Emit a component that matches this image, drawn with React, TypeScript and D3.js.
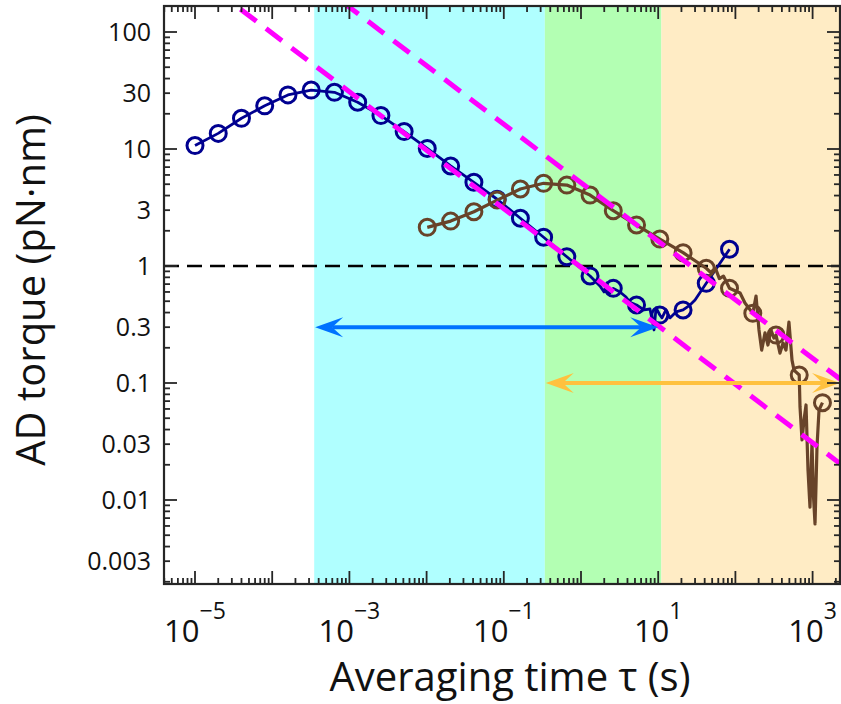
import React from 'react'
import * as d3 from 'd3'

const W = 841
const H = 704
const L = 164, R = 840, T = 6, B = 584

// averaging times at octave spacing (s)
const tauOct = [1e-5, 2e-5, 4e-5, 8e-5, 1.6e-4, 3.2e-4, 6.4e-4, 1.28e-3, 2.56e-3, 5.12e-3, 0.0102, 0.0205, 0.041, 0.082, 0.164, 0.328, 0.655, 1.31, 2.62, 5.24, 10.5, 21, 41.9, 83.9, 168, 336, 671, 1342]

// blue trace (marker values) + jitter read between markers
const blueVal = [10.7, 13.6, 18.3, 23.4, 29.0, 31.9, 30.5, 25.1, 19.3, 14.1, 10.1, 7.16, 5.19, 3.72, 2.56, 1.76, 1.2, 0.822, 0.644, 0.464, 0.381, 0.421, 0.711, 1.39]
const blueExtraTau = [1.76, 1.99, 2.17, 2.31, 3.2, 3.83, 4.31, 6.55, 7.83, 8.83, 9.38, 11.2, 12.6, 14.2, 17.0, 25.8, 30.0]
const blueExtraVal = [0.675, 0.6, 0.716, 0.576, 0.6, 0.543, 0.49, 0.421, 0.429, 0.284, 0.438, 0.36, 0.421, 0.36, 0.405, 0.464, 0.512]

// brown trace starts at the 11th octave point
const brownVal = [2.14, 2.42, 2.91, 3.66, 4.55, 5.09, 4.92, 4.04, 2.97, 2.24, 1.7, 1.3, 0.956, 0.645, 0.394, 0.257, 0.117, 0.0679]
const brownExtraTau = [48, 55, 62, 70, 115, 133, 185, 202, 219, 242, 264, 289, 316, 378, 414, 452, 494, 541, 574, 687, 729, 774, 822, 872, 925, 982, 1028, 1075, 1140, 1211]
const brownExtraVal = [0.88, 0.96, 0.78, 0.82, 0.588, 0.483, 0.554, 0.284, 0.191, 0.268, 0.211, 0.284, 0.242, 0.18, 0.22, 0.191, 0.332, 0.157, 0.129, 0.0624, 0.0326, 0.0483, 0.0649, 0.018, 0.0087, 0.0307, 0.0106, 0.00624, 0.0284, 0.0588]

// tau^-1/2 guide lines (coefficients)
const guideCoef = [0.975, 5.15]

// shaded regimes
const bandEdges = [3.5e-4, 0.34, 11]
const bandColors = ['#b0ffff', '#b3ffb3', '#ffecc5']

const yTickLabels = ['100', '30', '10', '3', '1', '0.3', '0.1', '0.03', '0.01', '0.003']
const xLabelExps = [-5, -3, -1, 1, 3]

const xDom: [number, number] = [10 ** (-5 - 31 / 77.2), 10 ** (-5 + 645 / 77.2)]
const yDom: [number, number] = [10 ** (-2 - 84 / 117), 10 ** (2 + 26 / 117)]

const x = d3.scaleLog().domain(xDom).range([L, R])
const y = d3.scaleLog().domain(yDom).range([B, T])

const merge = (ta: number[], va: number[], tb: number[], vb: number[]) =>
  ta.map((t, i) => [t, va[i]]).concat(tb.map((t, i) => [t, vb[i]])).sort((a, b) => a[0] - b[0])

const minorTicks = (dom: [number, number]) => {
  const out: number[] = []
  for (let e = -7; e <= 4; e++) for (let m = 2; m <= 9; m++) {
    const v = m * 10 ** e
    if (v > dom[0] && v < dom[1]) out.push(v)
  }
  return out
}
const majorTicks = (dom: [number, number]) => {
  const out: number[] = []
  for (let e = -7; e <= 4; e++) { const v = 10 ** e; if (v >= dom[0] && v <= dom[1]) out.push(v) }
  return out
}

const FONT = '"Open Sans", sans-serif'

function Arrow({ x1, x2, yv, color }: { x1: number, x2: number, yv: number, color: string }) {
  const px1 = x(x1), px2 = Math.min(x(x2), R), py = y(yv)
  const Lh = 28, hw = 10, N = 17
  const head = (tx: number, d: number) =>
    `M${tx},${py}L${tx - d * Lh},${py - hw}L${tx - d * N},${py}L${tx - d * Lh},${py + hw}Z`
  return (
    <g>
      <line x1={px1 + N} x2={px2 - N} y1={py} y2={py} stroke={color} strokeWidth={4} />
      <path d={head(px1, -1)} fill={color} />
      <path d={head(px2, 1)} fill={color} />
    </g>
  )
}

export default function App() {
  const line = d3.line<number[]>().x(d => x(d[0])).y(d => y(d[1]))
  const blueMarks = blueVal.map((v, i) => [tauOct[i], v])
  const brownMarks = brownVal.map((v, i) => [tauOct[i + 10], v])
  const blueLine = merge(tauOct.slice(0, blueVal.length), blueVal, blueExtraTau, blueExtraVal)
  const brownLine = merge(tauOct.slice(10, 10 + brownVal.length), brownVal, brownExtraTau, brownExtraVal)

  const xMaj = majorTicks(xDom), xMin = minorTicks(xDom)
  const yMaj = majorTicks(yDom), yMin = minorTicks(yDom)
  const edges = [...bandEdges, xDom[1]]
  const ink = '#262626'

  return (
    <svg width={W} height={H} style={{ display: 'block', background: '#fff' }}>
      <style>{'body{margin:0}'}</style>
      <defs>
        <clipPath id="plot"><rect x={L} y={T} width={R - L} height={B - T} /></clipPath>
      </defs>

      {bandColors.map((c, i) => (
        <rect key={i} x={x(edges[i])} y={T} width={x(edges[i + 1]) - x(edges[i])} height={B - T} fill={c} />
      ))}

      <g clipPath="url(#plot)">
        <line x1={L} x2={R} y1={y(1)} y2={y(1)} stroke="#000" strokeWidth={2.5} strokeDasharray="15 8" />

        <path d={line(blueLine) || ''} fill="none" stroke="#000090" strokeWidth={2.8} strokeLinejoin="round" />
        {blueMarks.map((d, i) => (
          <circle key={i} cx={x(d[0])} cy={y(d[1])} r={8} fill="none" stroke="#000090" strokeWidth={3} />
        ))}

        <path d={line(brownLine) || ''} fill="none" stroke="#684329" strokeWidth={3.2} strokeLinejoin="round" />
        {brownMarks.map((d, i) => (
          <circle key={i} cx={x(d[0])} cy={y(d[1])} r={8} fill="none" stroke="#684329" strokeWidth={3} />
        ))}

        {guideCoef.map((c, i) => (
          <path key={i}
            d={line(xDom.map(t => [t, c * t ** -0.5])) || ''}
            fill="none" stroke="#ff00ff" strokeWidth={5} strokeDasharray="20 12" />
        ))}

        <Arrow x1={3.6e-4} x2={10} yv={0.3} color="#0072ff" />
        <Arrow x1={0.35} x2={xDom[1]} yv={0.1} color="#ffc13e" />
      </g>

      {/* frame and ticks */}
      <g stroke={ink} strokeWidth={1.8}>
        {xMaj.map(v => (
          <g key={'xM' + v}>
            <line x1={x(v)} x2={x(v)} y1={B} y2={B - 13} />
            <line x1={x(v)} x2={x(v)} y1={T} y2={T + 13} />
          </g>
        ))}
        {xMin.map(v => (
          <g key={'xm' + v}>
            <line x1={x(v)} x2={x(v)} y1={B} y2={B - 6} />
            <line x1={x(v)} x2={x(v)} y1={T} y2={T + 6} />
          </g>
        ))}
        {yMaj.map(v => (
          <g key={'yM' + v}>
            <line x1={L} x2={L + 13} y1={y(v)} y2={y(v)} />
            <line x1={R} x2={R - 13} y1={y(v)} y2={y(v)} />
          </g>
        ))}
        {yMin.map(v => (
          <g key={'ym' + v}>
            <line x1={L} x2={L + 6} y1={y(v)} y2={y(v)} />
            <line x1={R} x2={R - 6} y1={y(v)} y2={y(v)} />
          </g>
        ))}
        <rect x={L} y={T} width={R - L} height={B - T} fill="none" strokeWidth={2.2} />
      </g>

      <g fontFamily={FONT} fill="#111">
        {yTickLabels.map(s => (
          <text key={s} x={151} y={y(+s)} dy="0.35em" textAnchor="end" fontSize={25}>{s}</text>
        ))}
        {xLabelExps.map(e => (
          <text key={e} x={x(10 ** e)} y={642} textAnchor="middle" fontSize={31}>
            10<tspan fontSize={23} dy={-23}>{e < 0 ? '\u2212' + -e : e}</tspan>
          </text>
        ))}
        <text x={510} y={691} textAnchor="middle" fontSize={40}>Averaging time τ (s)</text>
        <text transform="translate(45,290) rotate(-90)" textAnchor="middle" fontSize={40}>AD torque (pN·nm)</text>
      </g>
    </svg>
  )
}
